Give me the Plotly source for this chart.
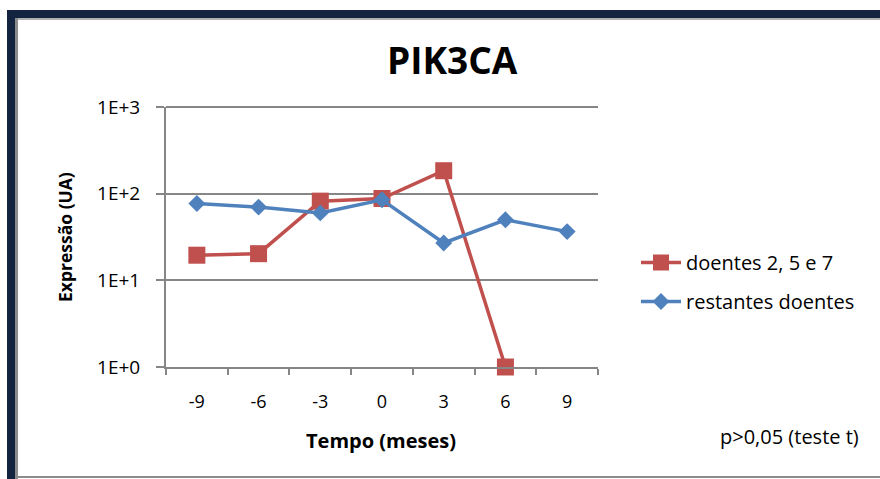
import plotly.graph_objects as go

# Data
meses = ["-9", "-6", "-3", "0", "3", "6", "9"]
doentes_257 = [19.5, 20.3, 82, 88, 184, 1.0, None]
restantes = [77, 70, 60, 85, 27, 50, 36.5]
y_ticks = [1, 10, 100, 1000]
y_tick_labels = ["1E+0", "1E+1", "1E+2", "1E+3"]

FONT = "'Open Sans', Lato, sans-serif"
GRID = "#868686"
RED = "#C0504D"
BLUE = "#4F81BD"
NAVY = "#12243F"

W, H = 880, 479
L, R, T, B = 166, 598, 107, 367  # plot-area edges in pixels


def px(x):
    return (x - L) / (R - L)


def py(y):
    return (B - y) / (B - T)


fig = go.Figure()
fig.add_trace(go.Scatter(
    x=meses, y=doentes_257, name="doentes 2, 5 e 7", mode="lines+markers",
    line=dict(color=RED, width=3.5), marker=dict(symbol="square", size=17, color=RED),
    cliponaxis=False, legendgroup="a",
))
fig.add_trace(go.Scatter(
    x=meses, y=restantes, name="restantes doentes", mode="lines+markers",
    line=dict(color=BLUE, width=3.5), marker=dict(symbol="diamond", size=13, color=BLUE),
    cliponaxis=False, legendgroup="b",
))

# frame around the chart, plus the top gridline at the edge of the range
shapes = [
    dict(type="line", xref="paper", yref="paper", x0=0, x1=1, y0=1, y1=1,
         line=dict(color=GRID, width=2), layer="below"),
    dict(type="rect", xref="paper", yref="paper", x0=px(7), x1=px(880), y0=py(10), y1=py(18),
         fillcolor=NAVY, line_width=0, layer="above"),
    dict(type="rect", xref="paper", yref="paper", x0=px(7), x1=px(15), y0=py(10), y1=py(479),
         fillcolor=NAVY, line_width=0, layer="above"),
    dict(type="rect", xref="paper", yref="paper", x0=px(15), x1=px(18), y0=py(18), y1=py(479),
         fillcolor="#8C8C8C", line_width=0, layer="above"),
    dict(type="rect", xref="paper", yref="paper", x0=px(18), x1=px(880), y0=py(18), y1=py(20),
         fillcolor="#B0B0B0", line_width=0, layer="above"),
    dict(type="rect", xref="paper", yref="paper", x0=px(18), x1=px(880), y0=py(476), y1=py(478),
         fillcolor="#8C8C8C", line_width=0, layer="above"),
]

annotations = [
    dict(text="<b>PIK3CA</b>", x=px(452), y=py(60), xref="paper", yref="paper",
         xanchor="center", yanchor="middle",
         showarrow=False, font=dict(size=37, color="black", family=FONT)),
    dict(text="<b>Tempo (meses)</b>", x=px(381), y=py(440), xref="paper", yref="paper",
         xanchor="center", yanchor="middle",
         showarrow=False, font=dict(size=20, color="black", family=FONT)),
    dict(text="<b>Expressão (UA)</b>", x=px(65), y=py(237), xref="paper", yref="paper",
         xanchor="center", yanchor="middle",
         showarrow=False, textangle=-90, font=dict(size=17.5, color="black", family=FONT)),
    dict(text="p>0,05 (teste t)", x=px(861), y=py(436), xref="paper", yref="paper",
         xanchor="right", yanchor="middle",
         showarrow=False, font=dict(size=20, color="black", family=FONT)),
]

fig.update_layout(
    width=W, height=H,
    margin=dict(l=L, r=W - R, t=T, b=H - B, pad=0),
    paper_bgcolor="white", plot_bgcolor="white",
    font=dict(family=FONT, size=18, color="black"),
    showlegend=True,
    legend=dict(x=px(636), y=py(243), xanchor="left", yanchor="top",
                traceorder="grouped", tracegroupgap=10,
                font=dict(size=20, color="black", family=FONT),
                bgcolor="rgba(0,0,0,0)", itemwidth=40),
    shapes=shapes,
    annotations=annotations,
    xaxis=dict(type="category", tickson="boundaries", ticks="outside", ticklen=6,
               tickcolor=GRID, tickwidth=2, showline=True, linecolor=GRID, linewidth=2,
               showgrid=False, zeroline=False, ticklabelstandoff=17,
               tickfont=dict(size=18, family=FONT), range=[-0.5, 6.5]),
    yaxis=dict(type="log", range=[0, 3], tickvals=y_ticks, ticktext=y_tick_labels,
               ticks="outside", ticklen=8, tickcolor=GRID, tickwidth=2,
               showline=True, linecolor=GRID, linewidth=2,
               showgrid=True, gridcolor=GRID, gridwidth=2, zeroline=False,
               ticklabelstandoff=12, tickfont=dict(size=19, family=FONT)),
)

fig.write_html("out.html")
